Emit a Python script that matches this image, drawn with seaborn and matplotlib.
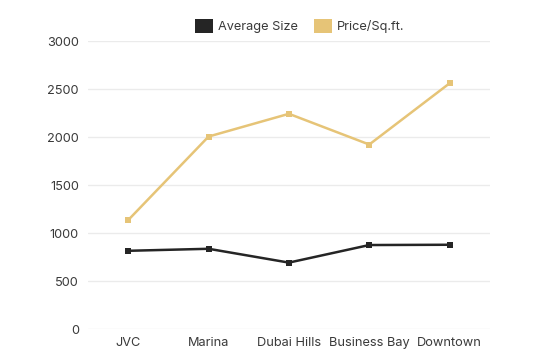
import matplotlib
matplotlib.use("Agg")
import matplotlib.pyplot as plt
import seaborn as sns
import pandas as pd
from matplotlib.patches import Patch

areas = ["JVC", "Marina", "Dubai Hills", "Business Bay", "Downtown"]
avg_size = [815, 836, 692, 875, 878]
price_sqft = [1135, 2005, 2242, 1922, 2560]
series_names = ["Average Size", "Price/Sq.ft."]
y_ticks = [0, 500, 1000, 1500, 2000, 2500, 3000]

sns.set_theme(style="white")
plt.rcParams["font.family"] = ["Inter", "DejaVu Sans"]

df = pd.DataFrame({
    "Area": areas * 2,
    "Value": avg_size + price_sqft,
    "Series": [series_names[0]] * len(areas) + [series_names[1]] * len(areas),
})

colors = {series_names[0]: "#252525", series_names[1]: "#E6C477"}

fig = plt.figure(figsize=(5.4, 3.6), dpi=100)
ax = fig.add_axes([0.163, 0.086, 0.744, 0.800])

sns.lineplot(data=df, x="Area", y="Value", hue="Series", palette=colors,
             marker="s", markersize=5, markeredgewidth=0, linewidth=1.8,
             sort=False, ax=ax, legend=False)

ax.set_xlim(-0.5, len(areas) - 0.5)
ax.set_ylim(0, 3000)
ax.set_yticks(y_ticks)
ax.set_yticklabels([str(t) for t in y_ticks])
ax.set_xlabel("")
ax.set_ylabel("")
for s in ax.spines.values():
    s.set_visible(False)
ax.grid(axis="y", color="#ebebeb", linewidth=1)
ax.set_axisbelow(True)
ax.tick_params(axis="both", length=0, labelsize=9.2, colors="#3a3a3a")
ax.tick_params(axis="y", pad=6.5)
ax.tick_params(axis="x", pad=5.5)

handles = [Patch(facecolor=colors[n], edgecolor="none", label=n) for n in series_names]
fig.legend(handles=handles, loc="upper center", bbox_to_anchor=(0.555, 0.98), ncol=2,
           frameon=False, fontsize=9.2, handlelength=1.4, handleheight=1.4,
           handletextpad=0.4, columnspacing=1.3, labelcolor="#3a3a3a")

fig.savefig("out.png", dpi=100)
